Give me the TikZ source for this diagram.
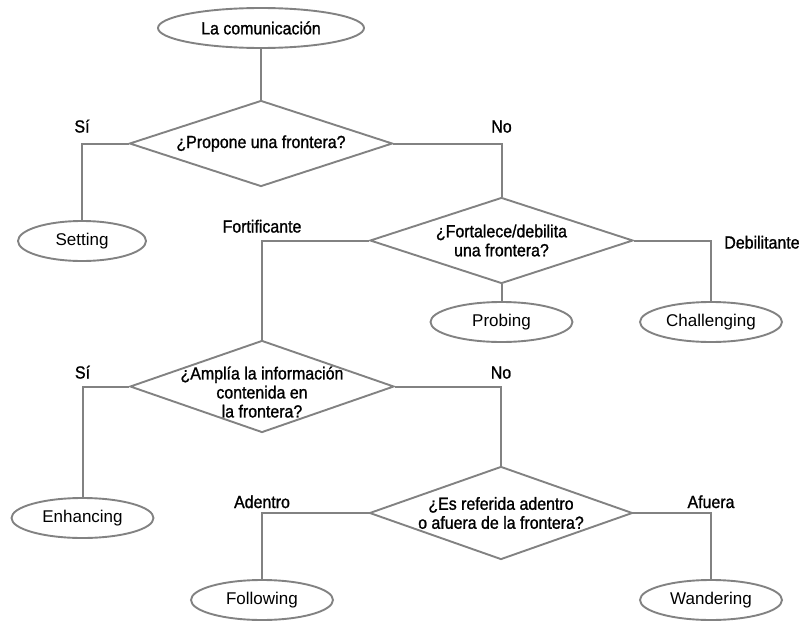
\documentclass[tikz,border=0pt]{standalone}
\usepackage{fontspec}
\setmainfont{Liberation Sans}
\newfontfamily\condfont[FakeStretch=0.91, FakeBold=1.2]{Liberation Sans}
\usetikzlibrary{shapes.geometric}
\definecolor{linegray}{RGB}{130,130,130}
\tikzset{
  leaf/.style={ellipse, draw=linegray, line width=1.9pt, minimum width=142pt, minimum height=40pt, inner sep=0pt, font=\fontsize{17}{19}\selectfont},
  ask/.style={diamond, draw=linegray, line width=1.9pt, aspect=3, inner sep=-15pt, minimum width=263pt, minimum height=86pt, align=center, font=\condfont\fontsize{17.5}{19}\selectfont},
  lab/.style={font=\condfont\fontsize{17.5}{19}\selectfont},
  labup/.style={lab, anchor=base, yshift=#1},
  labup/.default=8pt,
  link/.style={draw=linegray, line width=2pt}
}

\begin{document}
\begin{tikzpicture}[x=1pt, y=-1pt]
\useasboundingbox (0,0) rectangle (801,621);

\node[leaf, minimum width=206pt, font=\condfont\fontsize{17.5}{19}\selectfont] (com) at (261,28) {La comunicación};
\node[ask] (propone) at (261,143.5) {¿Propone una frontera?};
\node[leaf, minimum width=128pt] (setting) at (82,241) {Setting};
\node[ask] (fortalece) at (501.5,240.5) {¿Fortalece/debilita\\una frontera?};
\node[leaf] (probing) at (501.5,322) {Probing};
\node[leaf] (challenging) at (711,322) {Challenging};
\node[ask, minimum height=92pt, minimum width=264pt, text height=62pt] (amplia) at (262,386.5) {¿Amplía la información\\contenida en\\la frontera?};
\node[leaf] (enhancing) at (82.5,518) {Enhancing};
\node[ask, minimum height=93pt] (referida) at (501,513) {¿Es referida adentro\\o afuera de la frontera?};
\node[leaf] (following) at (262,600) {Following};
\node[leaf] (wandering) at (711,600) {Wandering};

\draw[link] (com) -- (propone);
\draw[link] (propone.west) -| node[labup=11pt] (si1) {Sí} (setting);
\draw[link] (propone.east) -| node[labup=11pt] (no1) {No} (fortalece);
\draw[link] (fortalece.west) -| node[labup] (fort) {Fortificante} (amplia);
\draw[link] (fortalece) -- (probing);
\draw[link] (fortalece.east) -| node[lab, anchor=base west, xshift=9pt, yshift=-8pt] (deb) {Debilitante} (challenging);
\draw[link] (amplia.west) -| node[labup] (si2) {Sí} (enhancing);
\draw[link] (amplia.east) -| node[labup] (no2) {No} (referida);
\draw[link] (referida.west) -| node[labup=5pt] (adentro) {Adentro} (following);
\draw[link] (referida.east) -| node[labup=5pt] (afuera) {Afuera} (wandering);
\end{tikzpicture}
\end{document}
